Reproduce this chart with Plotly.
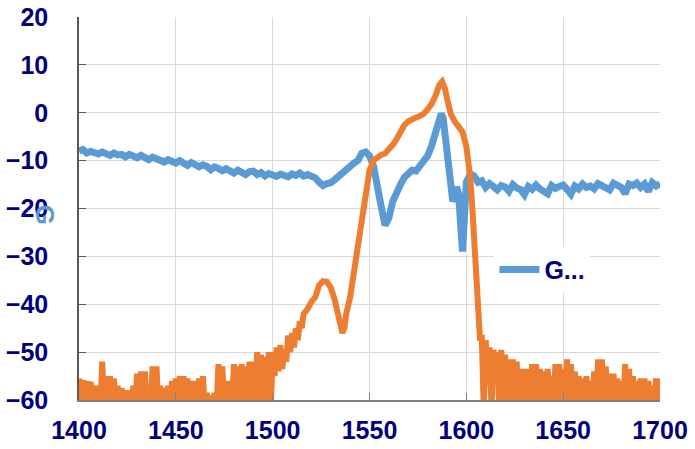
import plotly.graph_objects as go

# ---- Blue series ----
blue_x = [1400,1402,1404,1406,1408,1410,1412,1414,1416,1418,1420,1422,1424,1426,1428,1430,1432,1434,1436,1438,
          1440,1442,1444,1446,1448,1450,1452,1454,1456,1458,1460,1462,1464,1466,1468,1470,1472,1474,1476,1478,
          1480,1482,1484,1486,1488,1490,1492,1494,1496,1498,1500,1502,1504,1506,1508,1510,1512,1514,1516,1518,
          1520,1522,1524,1526,1528,1530,1532,1534,1536,1538,1540,1542,1544,1546,1548,1550,1552,1554,1556,1558,
          1560,1562,1564,1566,1568,1570,1572,1574,1576,1578,1580,1582,1584,1586,1587,1588,1589,1590,1591,1592,
          1593,1594,1595,1596,1597,1598,1599,1600,1602,1604,1606,1608,1610,1612,1614,1616,1618,1620,1622,1624,
          1626,1628,1630,1632,1634,1636,1638,1640,1642,1644,1646,1648,1650,1652,1654,1656,1658,1660,1662,1664,
          1666,1668,1670,1672,1674,1676,1678,1680,1682,1684,1686,1688,1690,1692,1694,1696,1698,1700]
blue_y = [-8.0,-7.7,-8.4,-8.1,-8.3,-8.6,-8.2,-8.5,-8.9,-8.4,-8.8,-8.7,-9.2,-8.7,-9.0,-9.4,-8.9,-9.2,-9.8,-9.3,
          -9.7,-9.9,-10.3,-9.8,-10.2,-10.5,-10.0,-10.6,-11.0,-10.4,-10.8,-11.3,-10.9,-11.2,-11.9,-11.3,-11.6,-12.1,-11.7,-12.0,
          -12.6,-12.0,-12.5,-12.9,-12.3,-12.2,-12.9,-12.5,-13.2,-12.7,-13.0,-13.3,-12.8,-13.1,-13.4,-12.8,-13.1,-12.6,-13.2,-12.9,
          -13.3,-13.6,-14.5,-15.2,-14.8,-14.6,-14.0,-13.2,-12.5,-12.0,-11.2,-10.5,-10.0,-8.5,-8.2,-9.0,-11.0,-14.5,-19.5,-23.5,
          -22.0,-18.5,-16.5,-15.0,-13.5,-12.8,-12.0,-12.2,-11.0,-10.2,-9.0,-7.0,-4.5,-1.5,-0.2,-1.0,-4.5,-7.5,-11.5,-16.0,
          -18.5,-17.5,-15.5,-17.0,-22.0,-29.0,-22.0,-14.5,-12.8,-13.2,-14.5,-14.2,-15.6,-14.8,-15.4,-16.1,-15.2,-15.5,-16.4,-15.0,
          -15.7,-16.0,-17.1,-15.4,-16.0,-15.1,-15.9,-16.3,-16.9,-15.2,-15.8,-15.4,-15.1,-16.0,-17.0,-15.3,-15.9,-14.9,-15.6,-15.3,
          -15.9,-14.8,-15.3,-15.8,-16.1,-14.7,-15.3,-15.6,-16.9,-14.9,-15.2,-14.7,-15.6,-14.9,-16.4,-14.6,-15.3,-14.8]

# ---- Orange series ----
orange_x = [1400,1401,1402,1403,1404,1405,1406,1407,1408,1409,1410,1411,1412,1413,1414,1415,1416,1417,1418,1419,
            1420,1421,1422,1423,1424,1425,1426,1427,1428,1429,1430,1431,1432,1433,1434,1435,1436,1437,1438,1439,
            1440,1441,1442,1443,1444,1445,1446,1447,1448,1449,1450,1451,1452,1453,1454,1455,1456,1457,1458,1459,
            1460,1461,1462,1463,1464,1465,1466,1467,1468,1469,1470,1471,1472,1473,1474,1475,1476,1477,1478,1479,
            1480,1481,1482,1483,1484,1485,1486,1487,1488,1489,1490,1491,1492,1493,1494,1495,1496,1497,1498,1499,
            1500,1501,1502,1503,1504,1505,1506,1507,1508,1509,1510,1511,1512,1513,1514,1515,1516,
            1518,1520,1522,1524,1526,1528,1530,1532,1534,1536,1537,1538,1540,1542,1544,1546,1548,1550,1552,1554,
            1556,1558,1560,1562,1564,1566,1568,1570,1572,1574,1576,1578,1580,1582,1584,1586,1587.5,1589,1590,1592,
            1594,1596,1598,1600,1601,1602,1603,1604,1605,1606,1607,
            1608,1609,1610,1611,1612,1613,1614,1615,1616,1617,1618,1619,1620,1621,1622,1623,1624,1625,1626,1627,
            1628,1629,1630,1631,1632,1633,1634,1635,1636,1637,1638,1639,1640,1641,1642,1643,1644,1645,1646,1647,
            1648,1649,1650,1651,1652,1653,1654,1655,1656,1657,1658,1659,1660,1661,1662,1663,1664,1665,1666,1667,
            1668,1669,1670,1671,1672,1673,1674,1675,1676,1677,1678,1679,1680,1681,1682,1683,1684,1685,1686,1687,
            1688,1689,1690,1691,1692,1693,1694,1695,1696,1697,1698,1699,1700]
orange_y = [-55.5,-62,-55.8,-62,-56,-62,-56.2,-62,-57,-62,-57,-62,-52,-62,-55,-62,-55,-62,-55.5,-62,
            -57,-62,-57.5,-62,-58,-62,-58,-62,-57,-62,-54.5,-62,-54,-62,-54,-62,-57,-62,-53,-62,
            -53,-62,-57,-62,-57.5,-62,-57,-62,-56,-62,-55.5,-62,-55,-62,-55,-62,-55.5,-62,-56,-62,
            -56,-62,-55.5,-62,-55,-62,-58.5,-62,-59,-62,-58.5,-62,-52.5,-62,-53,-62,-56,-62,-56,-62,
            -52.5,-62,-53,-62,-52.5,-62,-53,-62,-52,-62,-52,-62,-50,-62,-50.5,-62,-51,-62,-50,-62,
            -50,-55,-49,-54,-48.5,-53.5,-49.5,-52,-46.5,-50,-46,-49,-45,-47.5,-43.5,-45,-42,
            -41,-39.5,-38.5,-36,-35.2,-35.3,-36.5,-39,-42.5,-46,-45,-42,-38.5,-33,-28.5,-21,-15.5,-12,-10,-9.3,
            -8.8,-8.5,-7.8,-6.7,-5.5,-4,-2.6,-1.8,-1.3,-1,-0.7,-0.2,0.7,1.8,3.5,5.8,6.5,5,3,-0.3,
            -1.8,-2.7,-4,-7,-10,-13.5,-19,-26,-33,-41,-47,
            -47,-62,-47.5,-57,-49,-62,-49.5,-56,-50,-62,-49.5,-62,-50.5,-62,-51.5,-62,-51.5,-62,-52,-62,
            -53.5,-62,-53.5,-62,-53.5,-62,-52.5,-62,-52.5,-62,-53.5,-62,-54,-62,-53.5,-62,-55,-62,-52.5,-62,
            -52.5,-62,-53.5,-62,-51.5,-62,-52.5,-62,-54,-62,-55,-62,-55.5,-62,-55,-62,-56,-62,-54,-62,
            -51.5,-62,-51.5,-62,-53,-62,-54.5,-62,-54.5,-62,-55.5,-62,-56,-62,-52.5,-62,-53.5,-62,-55,-62,
            -56,-62,-55.5,-62,-55.5,-62,-56,-62,-57,-62,-55.5,-62,-55.5]

x_ticks = [1400, 1450, 1500, 1550, 1600, 1650, 1700]
y_ticks = [-60, -50, -40, -30, -20, -10, 0, 10, 20]

blue_name = "G..."

BLUE = "#5B9BD5"
ORANGE = "#ED7D31"
NAVY = "#000080"
FONT = "Arial, 'Liberation Sans', sans-serif"

fig = go.Figure()
fig.add_trace(go.Scatter(x=blue_x, y=blue_y, mode="lines", name=blue_name,
                         line=dict(color=BLUE, width=7), showlegend=True))
fig.add_trace(go.Scatter(x=orange_x, y=orange_y, mode="lines", name="orange",
                         line=dict(color=ORANGE, width=6), showlegend=False))

fig.update_layout(
    width=695, height=449,
    margin=dict(l=79, r=35, t=17, b=49, autoexpand=False),
    paper_bgcolor="white", plot_bgcolor="white",
    font=dict(family=FONT, size=25, color=NAVY, weight="bold"),
    legend=dict(x=0.715, y=0.34, xanchor="left", yanchor="middle",
                bgcolor="rgba(255,255,255,1)", borderwidth=0,
                font=dict(family=FONT, size=25, color=NAVY, weight="bold"),
                itemwidth=40),
    xaxis=dict(range=[1400, 1700], tickvals=x_ticks, ticks="inside", ticklen=7,
               tickcolor="#808080", showline=True, linecolor="#808080", linewidth=1.5,
               showgrid=True, gridcolor="#D9D9D9", gridwidth=1.3, zeroline=False,
               ticklabelstandoff=7, automargin=False,
               tickfont=dict(family=FONT, size=25, color=NAVY, weight="bold")),
    yaxis=dict(range=[-60, 20], tickvals=y_ticks, ticks="inside", ticklen=7,
               tickcolor="#595959", showline=True, linecolor="#595959", linewidth=1.5,
               showgrid=True, gridcolor="#D9D9D9", gridwidth=1.3, zeroline=False,
               ticklabelstandoff=24, automargin=False,
               tickfont=dict(family=FONT, size=25, color=NAVY, weight="bold")),
    annotations=[dict(text="G", xref="paper", yref="paper", x=-0.058, y=0.483,
                      xanchor="center", yanchor="middle",
                      showarrow=False, textangle=90,
                      font=dict(family=FONT, size=26, color=BLUE, weight="bold"))],
)

# remove the default 8px page margin so the figure fills the window exactly
fig.write_html("out.html", config={"displayModeBar": False},
               post_script="document.body.style.margin='0';document.body.style.overflow='hidden';")
